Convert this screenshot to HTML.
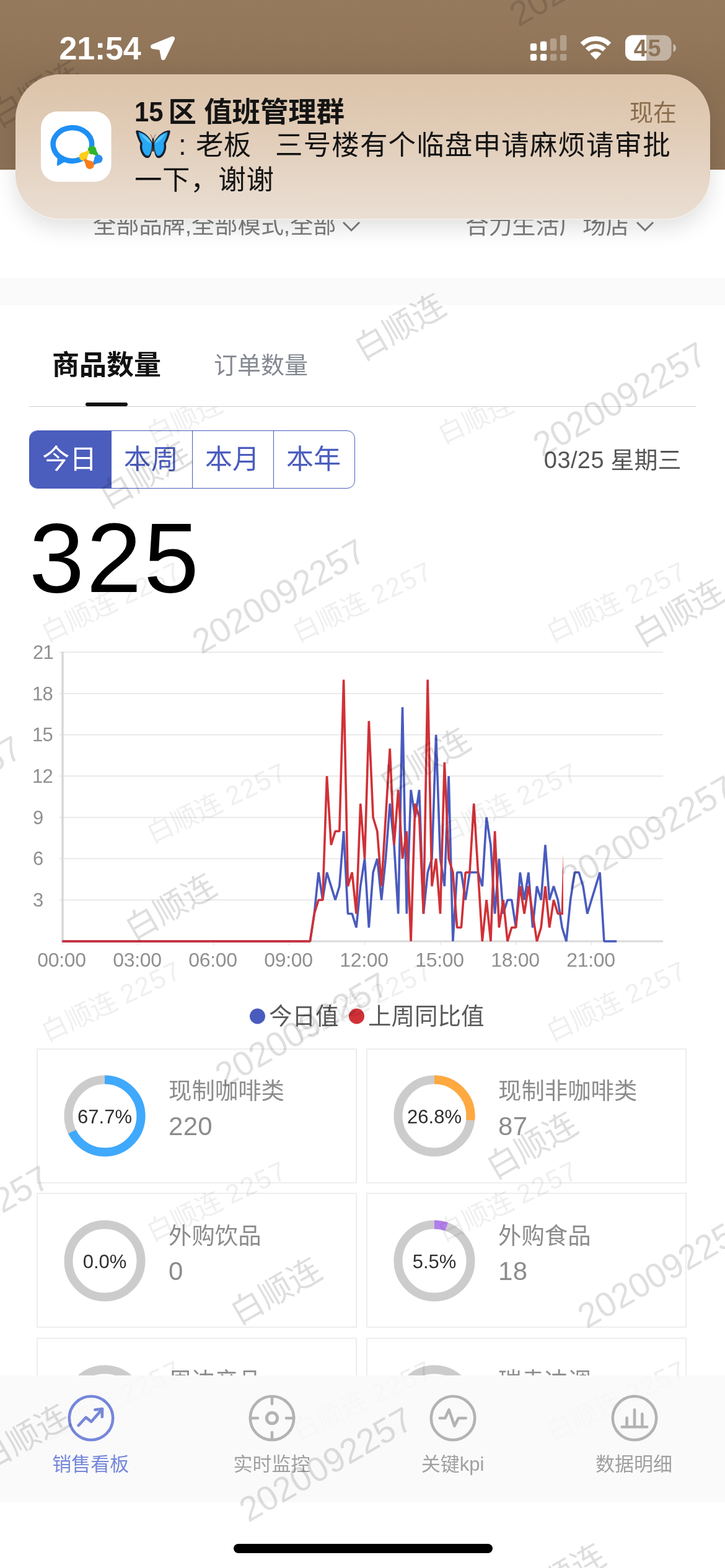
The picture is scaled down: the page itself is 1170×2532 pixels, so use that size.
<!DOCTYPE html>
<html lang="zh-CN">
<head>
<meta charset="utf-8">
<title>销售看板</title>
<style>
*{box-sizing:border-box;margin:0;padding:0}
html,body{width:1170px;height:2532px;overflow:hidden;background:#fff}
body{position:relative;font-family:"Liberation Sans","Noto Sans CJK SC",sans-serif;color:#000}
.abs{position:absolute;white-space:nowrap;line-height:1}
#hdr{position:absolute;left:0;top:0;width:1170px;height:273.5px;background:linear-gradient(180deg,#957a5e 0px,#93775b 60px,#8d7256 120px,#8c7155 274px)}
#band{position:absolute;left:0;top:448.5px;width:1170px;height:44px;background:#fafafa}
.filt{font-size:37px;color:#7d7d7d}
#tab1{left:84px;top:567.5px;font-size:44px;font-weight:bold;color:#111}
#tab2{left:345px;top:571px;font-size:38px;color:#848891}
#uline{position:absolute;left:138px;top:650px;width:68px;height:6px;border-radius:3px;background:#111}
#divider{position:absolute;left:47px;top:656px;width:1076px;height:1px;background:#cfcfcf}
#seg{position:absolute;left:47px;top:695px;width:526px;height:94px;border:1.5px solid #4b5dbd;border-radius:13px;overflow:hidden;display:flex;background:#fff}
#seg div{flex:0 0 auto;width:131px;height:100%;font-size:44px;padding-right:2px;color:#4b5dbd;display:flex;align-items:center;justify-content:center;border-left:1.5px solid #4b5dbd;line-height:1}
#seg div:first-child{border-left:none;background:#4b5dbd;color:#fff;width:130.5px}
#seg div:nth-child(2){width:131.5px}
#date{right:70.5px;top:723.5px;font-size:38px;color:#555}
#date span{letter-spacing:0.4px}
#big{left:47px;top:821px;font-size:160px;color:#000;letter-spacing:3.5px}
.wm{position:absolute;white-space:nowrap;line-height:1;color:rgba(0,0,0,0.13);transform-origin:50% 50%;pointer-events:none}
#wmclip{position:absolute;left:0;top:657px;width:1170px;height:1564px;overflow:hidden;pointer-events:none}
#wmclip2{position:absolute;left:0;top:2221px;width:1170px;height:204px;overflow:hidden;pointer-events:none;opacity:.2}
.card{position:absolute;width:517px;height:218px;border:2px solid #eeeeee}
.card .ci{position:absolute;left:0;top:0;width:100%;height:100%}
.card .t{position:absolute;left:211px;top:49px;font-size:37.4px;color:#8c8c8c;white-space:nowrap;line-height:1}
.card .v{position:absolute;left:211px;top:102.5px;font-size:42px;letter-spacing:0.3px;color:#8c8c8c;white-space:nowrap;line-height:1}
.card svg{position:absolute;left:42px;top:41px}
#tabbar{position:absolute;left:0;top:2221px;width:1170px;height:205px;background:#fafafa}
.tl{position:absolute;top:2349px;font-size:31px;color:#9a9a9a;white-space:nowrap;line-height:1;transform:translateX(-50%)}
#home{position:absolute;left:377px;top:2493px;width:417.5px;height:14.5px;border-radius:7.5px;background:#000}
#notif{position:absolute;left:25px;top:119.5px;width:1121px;height:235px;border-radius:72px;background:linear-gradient(180deg,#dcc3a9 0%,#e1ccb7 40%,#eadfd4 100%);box-shadow:0 12px 36px rgba(0,0,0,0.13),inset 0 -1.5px 0 rgba(255,255,255,0.55)}
</style>
</head>
<body>
<div id="hdr"></div>
<div class="abs filt" style="left:150px;top:346px;font-size:37.2px">全部品牌,全部模式,全部</div>
<div class="abs filt" style="left:751px;top:345.5px;font-size:37.8px">合力生活广场店</div>
<svg style="position:absolute;left:550px;top:350px" width="34" height="30" viewBox="0 0 34 30"><path d="M4 9 L17 22 L30 9" fill="none" stroke="#7d7d7d" stroke-width="3"/></svg>
<svg style="position:absolute;left:1024px;top:350px" width="34" height="30" viewBox="0 0 34 30"><path d="M4 9 L17 22 L30 9" fill="none" stroke="#7d7d7d" stroke-width="3"/></svg>
<div id="band"></div>
<div class="abs" id="tab1">商品数量</div>
<div class="abs" id="tab2">订单数量</div>
<div id="uline"></div>
<div id="divider"></div>
<div id="seg"><div>今日</div><div>本周</div><div>本月</div><div>本年</div></div>
<div class="abs" id="date"><span>03/25</span> 星期三</div>
<div class="abs" id="big">325</div>
<svg id="chart" width="1170" height="700" viewBox="0 1020 1170 700" style="position:absolute;left:0;top:1020px;overflow:visible" font-family="'Liberation Sans','Noto Sans CJK SC',sans-serif">
<line x1="96" y1="1453.3" x2="1070" y2="1453.3" stroke="#e4e4e4" stroke-width="1.5"/>
<line x1="96" y1="1386.6" x2="1070" y2="1386.6" stroke="#e4e4e4" stroke-width="1.5"/>
<line x1="96" y1="1319.9" x2="1070" y2="1319.9" stroke="#e4e4e4" stroke-width="1.5"/>
<line x1="96" y1="1253.2" x2="1070" y2="1253.2" stroke="#e4e4e4" stroke-width="1.5"/>
<line x1="96" y1="1186.5" x2="1070" y2="1186.5" stroke="#e4e4e4" stroke-width="1.5"/>
<line x1="96" y1="1119.9" x2="1070" y2="1119.9" stroke="#e4e4e4" stroke-width="1.5"/>
<line x1="96" y1="1053.2" x2="1070" y2="1053.2" stroke="#e4e4e4" stroke-width="1.5"/>
<line x1="101" y1="1052.5" x2="101" y2="1521.5" stroke="#d6d6d6" stroke-width="3.4"/>
<line x1="99.5" y1="1520" x2="1070" y2="1520" stroke="#dadada" stroke-width="3"/>
<line x1="100.5" y1="1520" x2="100.5" y2="1526" stroke="#e2e2e2" stroke-width="1.5"/>
<line x1="222.5" y1="1520" x2="222.5" y2="1526" stroke="#e2e2e2" stroke-width="1.5"/>
<line x1="344.5" y1="1520" x2="344.5" y2="1526" stroke="#e2e2e2" stroke-width="1.5"/>
<line x1="466.5" y1="1520" x2="466.5" y2="1526" stroke="#e2e2e2" stroke-width="1.5"/>
<line x1="588.5" y1="1520" x2="588.5" y2="1526" stroke="#e2e2e2" stroke-width="1.5"/>
<line x1="710.5" y1="1520" x2="710.5" y2="1526" stroke="#e2e2e2" stroke-width="1.5"/>
<line x1="832.5" y1="1520" x2="832.5" y2="1526" stroke="#e2e2e2" stroke-width="1.5"/>
<line x1="954.5" y1="1520" x2="954.5" y2="1526" stroke="#e2e2e2" stroke-width="1.5"/>
<text x="53.0" y="1463.9" text-anchor="start" font-size="31" letter-spacing="-0.8" fill="#8f8f8f">3</text>
<text x="53.0" y="1397.2" text-anchor="start" font-size="31" letter-spacing="-0.8" fill="#8f8f8f">6</text>
<text x="53.0" y="1330.5" text-anchor="start" font-size="31" letter-spacing="-0.8" fill="#8f8f8f">9</text>
<text x="52.0" y="1263.8" text-anchor="start" font-size="31" letter-spacing="-0.8" fill="#8f8f8f">12</text>
<text x="52.0" y="1197.1" text-anchor="start" font-size="31" letter-spacing="-0.8" fill="#8f8f8f">15</text>
<text x="52.0" y="1130.5" text-anchor="start" font-size="31" letter-spacing="-0.8" fill="#8f8f8f">18</text>
<text x="53.0" y="1063.8" text-anchor="start" font-size="31" letter-spacing="-0.8" fill="#8f8f8f">21</text>
<text x="99.5" y="1560.5" text-anchor="middle" font-size="32" letter-spacing="-0.3" fill="#8f8f8f">00:00</text>
<text x="221.5" y="1560.5" text-anchor="middle" font-size="32" letter-spacing="-0.3" fill="#8f8f8f">03:00</text>
<text x="343.5" y="1560.5" text-anchor="middle" font-size="32" letter-spacing="-0.3" fill="#8f8f8f">06:00</text>
<text x="465.5" y="1560.5" text-anchor="middle" font-size="32" letter-spacing="-0.3" fill="#8f8f8f">09:00</text>
<text x="587.5" y="1560.5" text-anchor="middle" font-size="32" letter-spacing="-0.3" fill="#8f8f8f">12:00</text>
<text x="709.5" y="1560.5" text-anchor="middle" font-size="32" letter-spacing="-0.3" fill="#8f8f8f">15:00</text>
<text x="831.5" y="1560.5" text-anchor="middle" font-size="32" letter-spacing="-0.3" fill="#8f8f8f">18:00</text>
<text x="953.5" y="1560.5" text-anchor="middle" font-size="32" letter-spacing="-0.3" fill="#8f8f8f">21:00</text>
<polyline fill="none" stroke="#4a5bbe" stroke-width="3.6" stroke-linejoin="bevel" points="100.5,1520.0 107.3,1520.0 114.1,1520.0 120.8,1520.0 127.6,1520.0 134.4,1520.0 141.2,1520.0 147.9,1520.0 154.7,1520.0 161.5,1520.0 168.3,1520.0 175.1,1520.0 181.8,1520.0 188.6,1520.0 195.4,1520.0 202.2,1520.0 208.9,1520.0 215.7,1520.0 222.5,1520.0 229.3,1520.0 236.1,1520.0 242.8,1520.0 249.6,1520.0 256.4,1520.0 263.2,1520.0 269.9,1520.0 276.7,1520.0 283.5,1520.0 290.3,1520.0 297.1,1520.0 303.8,1520.0 310.6,1520.0 317.4,1520.0 324.2,1520.0 331.0,1520.0 337.7,1520.0 344.5,1520.0 351.3,1520.0 358.1,1520.0 364.8,1520.0 371.6,1520.0 378.4,1520.0 385.2,1520.0 392.0,1520.0 398.7,1520.0 405.5,1520.0 412.3,1520.0 419.1,1520.0 425.8,1520.0 432.6,1520.0 439.4,1520.0 446.2,1520.0 453.0,1520.0 459.7,1520.0 466.5,1520.0 473.3,1520.0 480.1,1520.0 486.8,1520.0 493.6,1520.0 500.4,1520.0 507.2,1475.5 514.0,1408.8 520.7,1453.3 527.5,1408.8 534.3,1431.1 541.1,1453.3 547.8,1431.1 554.6,1342.2 561.4,1475.5 568.2,1475.5 575.0,1497.8 581.7,1431.1 588.5,1386.6 595.3,1497.8 602.1,1408.8 608.8,1386.6 615.6,1453.3 622.4,1386.6 629.2,1297.7 636.0,1364.4 642.7,1475.5 649.5,1142.1 656.3,1475.5 663.1,1275.5 669.9,1319.9 676.6,1275.5 683.4,1475.5 690.2,1408.8 697.0,1386.6 703.7,1186.5 710.5,1386.6 717.3,1431.1 724.1,1253.2 730.9,1520.0 737.6,1408.8 744.4,1408.8 751.2,1453.3 758.0,1408.8 764.7,1408.8 771.5,1408.8 778.3,1431.1 785.1,1319.9 791.9,1364.4 798.6,1475.5 805.4,1386.6 812.2,1475.5 819.0,1453.3 825.7,1453.3 832.5,1497.8 839.3,1408.8 846.1,1453.3 852.9,1408.8 859.6,1497.8 866.4,1431.1 873.2,1453.3 880.0,1364.4 886.7,1453.3 893.5,1431.1 900.3,1453.3 907.1,1497.8 913.9,1520.0 920.6,1453.3 927.4,1408.8 934.2,1408.8 941.0,1431.1 947.8,1475.5 954.5,1453.3 961.3,1431.1 968.1,1408.8 974.9,1520.0 981.6,1520.0 988.4,1520.0 995.2,1520.0"/>
<polyline fill="none" stroke="#d03137" stroke-width="3.6" stroke-linejoin="bevel" points="100.5,1520.0 107.3,1520.0 114.1,1520.0 120.8,1520.0 127.6,1520.0 134.4,1520.0 141.2,1520.0 147.9,1520.0 154.7,1520.0 161.5,1520.0 168.3,1520.0 175.1,1520.0 181.8,1520.0 188.6,1520.0 195.4,1520.0 202.2,1520.0 208.9,1520.0 215.7,1520.0 222.5,1520.0 229.3,1520.0 236.1,1520.0 242.8,1520.0 249.6,1520.0 256.4,1520.0 263.2,1520.0 269.9,1520.0 276.7,1520.0 283.5,1520.0 290.3,1520.0 297.1,1520.0 303.8,1520.0 310.6,1520.0 317.4,1520.0 324.2,1520.0 331.0,1520.0 337.7,1520.0 344.5,1520.0 351.3,1520.0 358.1,1520.0 364.8,1520.0 371.6,1520.0 378.4,1520.0 385.2,1520.0 392.0,1520.0 398.7,1520.0 405.5,1520.0 412.3,1520.0 419.1,1520.0 425.8,1520.0 432.6,1520.0 439.4,1520.0 446.2,1520.0 453.0,1520.0 459.7,1520.0 466.5,1520.0 473.3,1520.0 480.1,1520.0 486.8,1520.0 493.6,1520.0 500.4,1520.0 507.2,1475.5 514.0,1453.3 520.7,1453.3 527.5,1253.2 534.3,1364.4 541.1,1342.2 547.8,1342.2 554.6,1097.6 561.4,1431.1 568.2,1408.8 575.0,1475.5 581.7,1297.7 588.5,1386.6 595.3,1164.3 602.1,1319.9 608.8,1342.2 615.6,1431.1 622.4,1319.9 629.2,1208.8 636.0,1364.4 642.7,1275.5 649.5,1386.6 656.3,1342.2 663.1,1520.0 669.9,1297.7 676.6,1319.9 683.4,1475.5 690.2,1097.6 697.0,1431.1 703.7,1386.6 710.5,1475.5 717.3,1231.0 724.1,1386.6 730.9,1408.8 737.6,1497.8 744.4,1497.8 751.2,1408.8 758.0,1408.8 764.7,1297.7 771.5,1408.8 778.3,1520.0 785.1,1453.3 791.9,1520.0 798.6,1342.2 805.4,1497.8 812.2,1453.3 819.0,1520.0 825.7,1497.8 832.5,1497.8 839.3,1431.1 846.1,1475.5 852.9,1431.1 859.6,1475.5 866.4,1520.0 873.2,1497.8 880.0,1431.1 886.7,1497.8 893.5,1453.3 900.3,1475.5 907.1,1475.5"/>
<path d="M905.5 1477.0 L909.0 1477.0 L908.7 1377.7 Z" fill="#d03137"/>
<circle cx="415.5" cy="1641" r="12.5" fill="#4a5bbe"/>
<text x="434" y="1654" font-size="37.5" fill="#595959">今日值</text>
<circle cx="575.5" cy="1641" r="12.5" fill="#d03137"/>
<text x="594" y="1654" font-size="37.5" fill="#595959">上周同比值</text>
</svg>
<div class="card" style="left:59px;top:1693px"><div class="ci" style="top:0px"><svg width="132" height="132" viewBox="0 0 132 132" font-family="'Liberation Sans',sans-serif"><circle cx="66" cy="66" r="58.5" fill="none" stroke="#cccccc" stroke-width="14"/><circle cx="66" cy="66" r="58.5" fill="none" stroke="#3fa9fd" stroke-width="14" stroke-dasharray="248.84 367.57" transform="rotate(-90 66 66)"/><text x="66" y="77.6" text-anchor="middle" font-size="31" fill="#2e2e2e">67.7%</text></svg><div class="t">现制咖啡类</div><div class="v">220</div></div></div>
<div class="card" style="left:591px;top:1693px"><div class="ci" style="top:0px"><svg width="132" height="132" viewBox="0 0 132 132" font-family="'Liberation Sans',sans-serif"><circle cx="66" cy="66" r="58.5" fill="none" stroke="#cccccc" stroke-width="14"/><circle cx="66" cy="66" r="58.5" fill="none" stroke="#ffa940" stroke-width="14" stroke-dasharray="98.51 367.57" transform="rotate(-90 66 66)"/><text x="66" y="77.6" text-anchor="middle" font-size="31" fill="#2e2e2e">26.8%</text></svg><div class="t">现制非咖啡类</div><div class="v">87</div></div></div>
<div class="card" style="left:59px;top:1926px"><div class="ci" style="top:1px"><svg width="132" height="132" viewBox="0 0 132 132" font-family="'Liberation Sans',sans-serif"><circle cx="66" cy="66" r="58.5" fill="none" stroke="#cccccc" stroke-width="14"/><text x="66" y="77.6" text-anchor="middle" font-size="31" fill="#2e2e2e">0.0%</text></svg><div class="t">外购饮品</div><div class="v">0</div></div></div>
<div class="card" style="left:591px;top:1926px"><div class="ci" style="top:1px"><svg width="132" height="132" viewBox="0 0 132 132" font-family="'Liberation Sans',sans-serif"><circle cx="66" cy="66" r="58.5" fill="none" stroke="#cccccc" stroke-width="14"/><circle cx="66" cy="66" r="58.5" fill="none" stroke="#b37feb" stroke-width="14" stroke-dasharray="20.22 367.57" transform="rotate(-90 66 66)"/><text x="66" y="77.6" text-anchor="middle" font-size="31" fill="#2e2e2e">5.5%</text></svg><div class="t">外购食品</div><div class="v">18</div></div></div>
<div class="card" style="left:59px;top:2160px"><div class="ci" style="top:1px"><svg width="132" height="132" viewBox="0 0 132 132" font-family="'Liberation Sans',sans-serif"><circle cx="66" cy="66" r="58.5" fill="none" stroke="#cccccc" stroke-width="14"/><circle cx="66" cy="66" r="58.5" fill="none" stroke="#cccccc" stroke-width="14" stroke-dasharray="1.10 367.57" transform="rotate(-90 66 66)"/><text x="66" y="77.6" text-anchor="middle" font-size="31" fill="#2e2e2e">0.3%</text></svg><div class="t">周边产品</div><div class="v">1</div></div></div>
<div class="card" style="left:591px;top:2160px"><div class="ci" style="top:1px"><svg width="132" height="132" viewBox="0 0 132 132" font-family="'Liberation Sans',sans-serif"><circle cx="66" cy="66" r="58.5" fill="none" stroke="#cccccc" stroke-width="14"/><text x="66" y="77.6" text-anchor="middle" font-size="31" fill="#2e2e2e">0.0%</text></svg><div class="t">瑞幸冲调</div><div class="v">0</div></div></div>
<div id="wmclip"><div class="wm" style="left:180px;top:315px;font-size:43px;color:rgba(0,0,0,0.062);transform:translate(-50%,-50%) rotate(-25.5deg)">白顺连 <span style="letter-spacing:2px">2257</span></div>
<div class="wm" style="left:585px;top:315px;font-size:43px;color:rgba(0,0,0,0.062);transform:translate(-50%,-50%) rotate(-25.5deg)">白顺连 <span style="letter-spacing:2px">2257</span></div>
<div class="wm" style="left:995px;top:315px;font-size:43px;color:rgba(0,0,0,0.062);transform:translate(-50%,-50%) rotate(-25.5deg)">白顺连 <span style="letter-spacing:2px">2257</span></div>
<div class="wm" style="left:180px;top:960px;font-size:43px;color:rgba(0,0,0,0.062);transform:translate(-50%,-50%) rotate(-25.5deg)">白顺连 <span style="letter-spacing:2px">2257</span></div>
<div class="wm" style="left:585px;top:960px;font-size:43px;color:rgba(0,0,0,0.062);transform:translate(-50%,-50%) rotate(-25.5deg)">白顺连 <span style="letter-spacing:2px">2257</span></div>
<div class="wm" style="left:995px;top:960px;font-size:43px;color:rgba(0,0,0,0.062);transform:translate(-50%,-50%) rotate(-25.5deg)">白顺连 <span style="letter-spacing:2px">2257</span></div>
<div class="wm" style="left:180px;top:1605px;font-size:43px;color:rgba(0,0,0,0.062);transform:translate(-50%,-50%) rotate(-25.5deg)">白顺连 <span style="letter-spacing:2px">2257</span></div>
<div class="wm" style="left:585px;top:1605px;font-size:43px;color:rgba(0,0,0,0.062);transform:translate(-50%,-50%) rotate(-25.5deg)">白顺连 <span style="letter-spacing:2px">2257</span></div>
<div class="wm" style="left:995px;top:1605px;font-size:43px;color:rgba(0,0,0,0.062);transform:translate(-50%,-50%) rotate(-25.5deg)">白顺连 <span style="letter-spacing:2px">2257</span></div>
<div class="wm" style="left:350px;top:-5px;font-size:43px;color:rgba(0,0,0,0.062);transform:translate(-50%,-50%) rotate(-25.5deg)">白顺连 <span style="letter-spacing:2px">2257</span></div>
<div class="wm" style="left:820px;top:-5px;font-size:43px;color:rgba(0,0,0,0.062);transform:translate(-50%,-50%) rotate(-25.5deg)">白顺连 <span style="letter-spacing:2px">2257</span></div>
<div class="wm" style="left:350px;top:640px;font-size:43px;color:rgba(0,0,0,0.062);transform:translate(-50%,-50%) rotate(-25.5deg)">白顺连 <span style="letter-spacing:2px">2257</span></div>
<div class="wm" style="left:820px;top:640px;font-size:43px;color:rgba(0,0,0,0.062);transform:translate(-50%,-50%) rotate(-25.5deg)">白顺连 <span style="letter-spacing:2px">2257</span></div>
<div class="wm" style="left:350px;top:1283px;font-size:43px;color:rgba(0,0,0,0.062);transform:translate(-50%,-50%) rotate(-25.5deg)">白顺连 <span style="letter-spacing:2px">2257</span></div>
<div class="wm" style="left:820px;top:1283px;font-size:43px;color:rgba(0,0,0,0.062);transform:translate(-50%,-50%) rotate(-25.5deg)">白顺连 <span style="letter-spacing:2px">2257</span></div></div>

<div id="tabbar"></div>
<svg style="position:absolute;left:105.8px;top:2248.7px" width="82" height="82" viewBox="-41 -41 82 82" fill="none" stroke="#7687da" stroke-width="4.6" stroke-linecap="round" stroke-linejoin="round"><circle cx="0" cy="0" r="35.2"/><path d="M-20.3 11.8 L-8.3 -1.2 L0.2 5.7 L17.3 -13.8"/><path d="M6.3 -13.5 L18.1 -14.9 L17.8 -2"/></svg>
<div class="tl" style="left:146.3px;color:#7587da">销售看板</div>
<svg style="position:absolute;left:397.9px;top:2248.7px" width="82" height="82" viewBox="-41 -41 82 82" fill="none" stroke="#b3b3b3" stroke-width="4.6" stroke-linecap="round" stroke-linejoin="round"><circle cx="0" cy="0" r="35.2"/><circle cx="0" cy="0" r="8.7" stroke-width="4.9"/><path d="M0 -34 L0 -23 M0 23 L0 34 M-34 0 L-23 0 M23 0 L34 0"/></svg>
<div class="tl" style="left:438.4px;color:#a0a0a0">实时监控</div>
<svg style="position:absolute;left:690.2px;top:2248.7px" width="82" height="82" viewBox="-41 -41 82 82" fill="none" stroke="#b3b3b3" stroke-width="4.6" stroke-linecap="round" stroke-linejoin="round"><circle cx="0" cy="0" r="35.2"/><path d="M-21.2 0 L-12.7 0 L-6.5 -13.5 L2.4 12.6 L8.8 0 L20.8 0"/></svg>
<div class="tl" style="left:730.7px;color:#a0a0a0">关键kpi</div>
<svg style="position:absolute;left:982.5px;top:2248.7px" width="82" height="82" viewBox="-41 -41 82 82" fill="none" stroke="#b3b3b3" stroke-width="4.6" stroke-linecap="round" stroke-linejoin="round"><circle cx="0" cy="0" r="35.2"/><path d="M-20.3 14.2 L20.3 14.2 M-12.4 13 L-12.4 -0.5 M0 13 L0 -13.5 M12.4 13 L12.4 -6.6"/></svg>
<div class="tl" style="left:1023.0px;color:#a0a0a0">数据明细</div>
<div id="home"></div>
<div id="wmclip2"><div class="wm" style="left:180px;top:-1249px;font-size:43px;color:rgba(0,0,0,0.062);transform:translate(-50%,-50%) rotate(-25.5deg)">白顺连 <span style="letter-spacing:2px">2257</span></div>
<div class="wm" style="left:585px;top:-1249px;font-size:43px;color:rgba(0,0,0,0.062);transform:translate(-50%,-50%) rotate(-25.5deg)">白顺连 <span style="letter-spacing:2px">2257</span></div>
<div class="wm" style="left:995px;top:-1249px;font-size:43px;color:rgba(0,0,0,0.062);transform:translate(-50%,-50%) rotate(-25.5deg)">白顺连 <span style="letter-spacing:2px">2257</span></div>
<div class="wm" style="left:180px;top:-604px;font-size:43px;color:rgba(0,0,0,0.062);transform:translate(-50%,-50%) rotate(-25.5deg)">白顺连 <span style="letter-spacing:2px">2257</span></div>
<div class="wm" style="left:585px;top:-604px;font-size:43px;color:rgba(0,0,0,0.062);transform:translate(-50%,-50%) rotate(-25.5deg)">白顺连 <span style="letter-spacing:2px">2257</span></div>
<div class="wm" style="left:995px;top:-604px;font-size:43px;color:rgba(0,0,0,0.062);transform:translate(-50%,-50%) rotate(-25.5deg)">白顺连 <span style="letter-spacing:2px">2257</span></div>
<div class="wm" style="left:180px;top:41px;font-size:43px;color:rgba(0,0,0,0.062);transform:translate(-50%,-50%) rotate(-25.5deg)">白顺连 <span style="letter-spacing:2px">2257</span></div>
<div class="wm" style="left:585px;top:41px;font-size:43px;color:rgba(0,0,0,0.062);transform:translate(-50%,-50%) rotate(-25.5deg)">白顺连 <span style="letter-spacing:2px">2257</span></div>
<div class="wm" style="left:995px;top:41px;font-size:43px;color:rgba(0,0,0,0.062);transform:translate(-50%,-50%) rotate(-25.5deg)">白顺连 <span style="letter-spacing:2px">2257</span></div>
<div class="wm" style="left:350px;top:-1569px;font-size:43px;color:rgba(0,0,0,0.062);transform:translate(-50%,-50%) rotate(-25.5deg)">白顺连 <span style="letter-spacing:2px">2257</span></div>
<div class="wm" style="left:820px;top:-1569px;font-size:43px;color:rgba(0,0,0,0.062);transform:translate(-50%,-50%) rotate(-25.5deg)">白顺连 <span style="letter-spacing:2px">2257</span></div>
<div class="wm" style="left:350px;top:-924px;font-size:43px;color:rgba(0,0,0,0.062);transform:translate(-50%,-50%) rotate(-25.5deg)">白顺连 <span style="letter-spacing:2px">2257</span></div>
<div class="wm" style="left:820px;top:-924px;font-size:43px;color:rgba(0,0,0,0.062);transform:translate(-50%,-50%) rotate(-25.5deg)">白顺连 <span style="letter-spacing:2px">2257</span></div>
<div class="wm" style="left:350px;top:-281px;font-size:43px;color:rgba(0,0,0,0.062);transform:translate(-50%,-50%) rotate(-25.5deg)">白顺连 <span style="letter-spacing:2px">2257</span></div>
<div class="wm" style="left:820px;top:-281px;font-size:43px;color:rgba(0,0,0,0.062);transform:translate(-50%,-50%) rotate(-25.5deg)">白顺连 <span style="letter-spacing:2px">2257</span></div></div>
<div class="wm" style="left:645px;top:528px;font-size:53px;color:rgba(0,0,0,0.130);transform:translate(-50%,-50%) rotate(-30.0deg)">白顺连</div>
<div class="wm" style="left:234px;top:767px;font-size:53px;color:rgba(0,0,0,0.130);transform:translate(-50%,-50%) rotate(-30.0deg)">白顺连</div>
<div class="wm" style="left:1095px;top:990px;font-size:53px;color:rgba(0,0,0,0.130);transform:translate(-50%,-50%) rotate(-30.0deg)">白顺连</div>
<div class="wm" style="left:685px;top:1230px;font-size:53px;color:rgba(0,0,0,0.130);transform:translate(-50%,-50%) rotate(-30.0deg)">白顺连</div>
<div class="wm" style="left:275px;top:1465px;font-size:53px;color:rgba(0,0,0,0.130);transform:translate(-50%,-50%) rotate(-30.0deg)">白顺连</div>
<div class="wm" style="left:858px;top:1850px;font-size:53px;color:rgba(0,0,0,0.130);transform:translate(-50%,-50%) rotate(-30.0deg)">白顺连</div>
<div class="wm" style="left:445px;top:2085px;font-size:53px;color:rgba(0,0,0,0.130);transform:translate(-50%,-50%) rotate(-30.0deg)">白顺连</div>
<div class="wm" style="left:38px;top:2322px;font-size:53px;color:rgba(0,0,0,0.130);transform:translate(-50%,-50%) rotate(-30.0deg)">白顺连</div>
<div class="wm" style="left:903px;top:2547px;font-size:53px;color:rgba(0,0,0,0.130);transform:translate(-50%,-50%) rotate(-30.0deg)">白顺连</div>
<div class="wm" style="left:58px;top:152px;font-size:53px;color:rgba(0,0,0,0.130);transform:translate(-50%,-50%) rotate(-30.0deg)">白顺连</div>
<div class="wm" style="left:1000px;top:645px;font-size:56px;color:rgba(0,0,0,0.125);transform:translate(-50%,-50%) rotate(-30.0deg)">2020092257</div>
<div class="wm" style="left:450px;top:963px;font-size:56px;color:rgba(0,0,0,0.125);transform:translate(-50%,-50%) rotate(-30.0deg)">2020092257</div>
<div class="wm" style="left:1045px;top:1345px;font-size:56px;color:rgba(0,0,0,0.125);transform:translate(-50%,-50%) rotate(-30.0deg)">2020092257</div>
<div class="wm" style="left:487px;top:1663px;font-size:56px;color:rgba(0,0,0,0.125);transform:translate(-50%,-50%) rotate(-30.0deg)">2020092257</div>
<div class="wm" style="left:1072px;top:2052px;font-size:56px;color:rgba(0,0,0,0.125);transform:translate(-50%,-50%) rotate(-30.0deg)">2020092257</div>
<div class="wm" style="left:526px;top:2365px;font-size:56px;color:rgba(0,0,0,0.125);transform:translate(-50%,-50%) rotate(-30.0deg)">2020092257</div>
<div class="wm" style="left:-105px;top:1281px;font-size:56px;color:rgba(0,0,0,0.125);transform:translate(-50%,-50%) rotate(-30.0deg)">2020092257</div>
<div class="wm" style="left:-60px;top:1975px;font-size:56px;color:rgba(0,0,0,0.125);transform:translate(-50%,-50%) rotate(-30.0deg)">2020092257</div>
<div class="wm" style="left:962px;top:-50px;font-size:56px;color:rgba(0,0,0,0.125);transform:translate(-50%,-50%) rotate(-30.0deg)">2020092257</div>
<div id="notif">
<svg style="position:absolute;left:41.4px;top:60px" width="114" height="114" viewBox="0 0 114 114">
<rect x="0" y="0" width="113.5" height="113.5" rx="26.5" ry="26.5" fill="#ffffff"/>
<path d="M65.5 76.7 A31.2 26.8 0 1 1 81.8 56.7" fill="none" stroke="#1f8ff4" stroke-width="8.5" stroke-linecap="round"/>
<path d="M27 86.5 L28.5 70 L41 78.5 Z" fill="#1f8ff4" stroke="#1f8ff4" stroke-width="2.5" stroke-linejoin="round"/>
<circle cx="82.6" cy="62.4" r="6.8" fill="#2fb52c"/><path d="M82.5 68.0 L91.1 71.6 L92.5 70.0 L88.2 61.8 Z" fill="#2fb52c" stroke="#2fb52c" stroke-width="1.2" stroke-linejoin="round"/><circle cx="68.5" cy="72.8" r="6.8" fill="#fbce1a"/><path d="M74.1 73.2 L78.0 65.0 L76.4 63.4 L68.2 67.2 Z" fill="#fbce1a" stroke="#fbce1a" stroke-width="1.2" stroke-linejoin="round"/><circle cx="92.8" cy="76.6" r="6.8" fill="#2d8ef0"/><path d="M87.2 76.3 L83.8 84.2 L85.4 85.8 L93.2 82.2 Z" fill="#2d8ef0" stroke="#2d8ef0" stroke-width="1.2" stroke-linejoin="round"/><circle cx="79.0" cy="86.2" r="6.8" fill="#f97d18"/><path d="M79.3 80.6 L71.2 77.0 L69.6 78.6 L73.4 86.6 Z" fill="#f97d18" stroke="#f97d18" stroke-width="1.2" stroke-linejoin="round"/>
</svg>
<div class="abs" style="left:192px;top:39px;font-size:45.5px;font-weight:bold;color:#141414;letter-spacing:-0.2px"><span style="display:inline-block;font-size:45px;letter-spacing:0;transform:scaleX(0.93);transform-origin:0 100%;margin-right:4.5px;position:relative;top:-1px">15</span>区 值班管理群</div>
<div class="abs" style="right:54px;top:43px;font-size:38px;color:#8a6d4d">现在</div>
<svg style="position:absolute;left:193px;top:89px" width="58" height="50" viewBox="0 0 58 50"><title>🦋</title>
<path d="M28 22 C24 12 14 3 4 1.5 C1.5 1.2 0.8 2.5 1.5 5 C3 11 5 17 8.5 23 C7 28 8 34 11 39.5 C14 45 19 47.5 22.5 45.5 C26 43 27.5 35 28 26 Z" fill="#15202e"/>
<path d="M30 22 C34 12 44 3 54 1.5 C56.5 1.2 57.2 2.5 56.5 5 C55 11 53 17 49.5 23 C51 28 50 34 47 39.5 C44 45 39 47.5 35.5 45.5 C32 43 30.5 35 30 26 Z" fill="#15202e"/>
<path d="M27 22.5 C23.5 14 15 6 5.5 4.2 C6.5 11 9 17 12 22.5 C10.5 27.5 11.5 33 14 37.5 C16.5 42 20 43.5 22 42 C25 39.5 26.5 33 27 25 Z" fill="#27a8f5"/>
<path d="M31 22.5 C34.5 14 43 6 52.5 4.2 C51.5 11 49 17 46 22.5 C47.5 27.5 46.5 33 44 37.5 C41.5 42 38 43.5 36 42 C33 39.5 31.5 33 31 25 Z" fill="#27a8f5"/>
<path d="M26 21 C22 15 16 9.5 9 7 C13 13 17 18.5 26 23 Z M32 21 C36 15 42 9.5 49 7 C45 13 41 18.5 32 23 Z" fill="#6fd0ff" opacity=".7"/>
<rect x="27.6" y="14" width="2.8" height="22" rx="1.4" fill="#2a1d14"/>
<path d="M28.5 15 L25 8 M29.5 15 L33 8" stroke="#5a4a3a" stroke-width="0.8" fill="none"/>
</svg>
<div class="abs" style="left:263px;top:92px;font-size:45.500px;color:#141414">:</div>
<div class="abs" style="left:291px;top:93px;font-size:44.500px;color:#141414;letter-spacing:0.3px">老板</div>
<div class="abs" style="left:419px;top:93px;font-size:44.500px;color:#141414;letter-spacing:1.130px">三号楼有个临盘申请麻烦请审批</div>
<div class="abs" style="left:192px;top:149px;font-size:44.500px;color:#141414;letter-spacing:0.6px">一下，谢谢</div>
</div>

<div class="abs" id="time" style="left:95.5px;top:52px;font-size:52px;font-weight:bold;color:#fff;letter-spacing:-0.2px">21:54</div>
<svg style="position:absolute;left:236px;top:52px" width="52" height="52" viewBox="236 52 52 52"><path d="M278.3 62.5 L246.8 75.3 L260.6 77.4 L263.6 93.2 Z" fill="#fff" stroke="#fff" stroke-width="7.5" stroke-linejoin="round"/></svg>
<svg style="position:absolute;left:850px;top:50px" width="250" height="56" viewBox="850 50 250 56">
<g fill="#fff">
<rect x="855.8" y="87.1" width="10.4" height="10.8" rx="3.2"/>
<rect x="871.9" y="87.1" width="10.4" height="10.8" rx="3.2"/>
<rect x="855.8" y="69.9" width="10.4" height="12" rx="3.2"/>
<rect x="871.9" y="66.8" width="10.4" height="15.1" rx="3.2"/>
<g opacity=".3">
<rect x="887.9" y="87.1" width="10.4" height="10.8" rx="3.2"/>
<rect x="903.9" y="87.1" width="10.4" height="10.8" rx="3.2"/>
<rect x="887.9" y="62" width="10.4" height="19.9" rx="3.2"/>
<rect x="903.9" y="56.7" width="10.4" height="25.2" rx="3.2"/>
</g>
</g>
<g fill="none" stroke="#fff" stroke-linecap="butt">
<path d="M939.2 71.5 A31.5 31.5 0 0 1 983.6 71.5" stroke-width="7.6"/>
<path d="M947.5 80.5 A19.5 19.5 0 0 1 975.3 80.5" stroke-width="7.4"/>
</g>
<path d="M961.4 96.3 L952.5 87 A12.5 12.5 0 0 1 970.3 87 Z" fill="#fff"/>
<rect x="1009" y="56.7" width="74.6" height="41.2" rx="12.5" fill="#fff" opacity=".45"/>
<path d="M1021.5 56.7 L1043 56.7 L1043 97.9 L1021.5 97.9 A12.5 12.5 0 0 1 1009 85.4 L1009 69.2 A12.5 12.5 0 0 1 1021.5 56.7 Z" fill="#fff"/>
<path d="M1086.5 71 C1089.5 72 1091 74.5 1091 77.5 C1091 80.5 1089.5 83 1086.5 84 Z" fill="#fff" opacity=".5"/>
<text x="1045.4" y="91.3" text-anchor="middle" font-family="'Liberation Sans',sans-serif" font-weight="bold" font-size="38" fill="#8f7457" letter-spacing="1.5">45</text>
</svg>

</body>
</html>
